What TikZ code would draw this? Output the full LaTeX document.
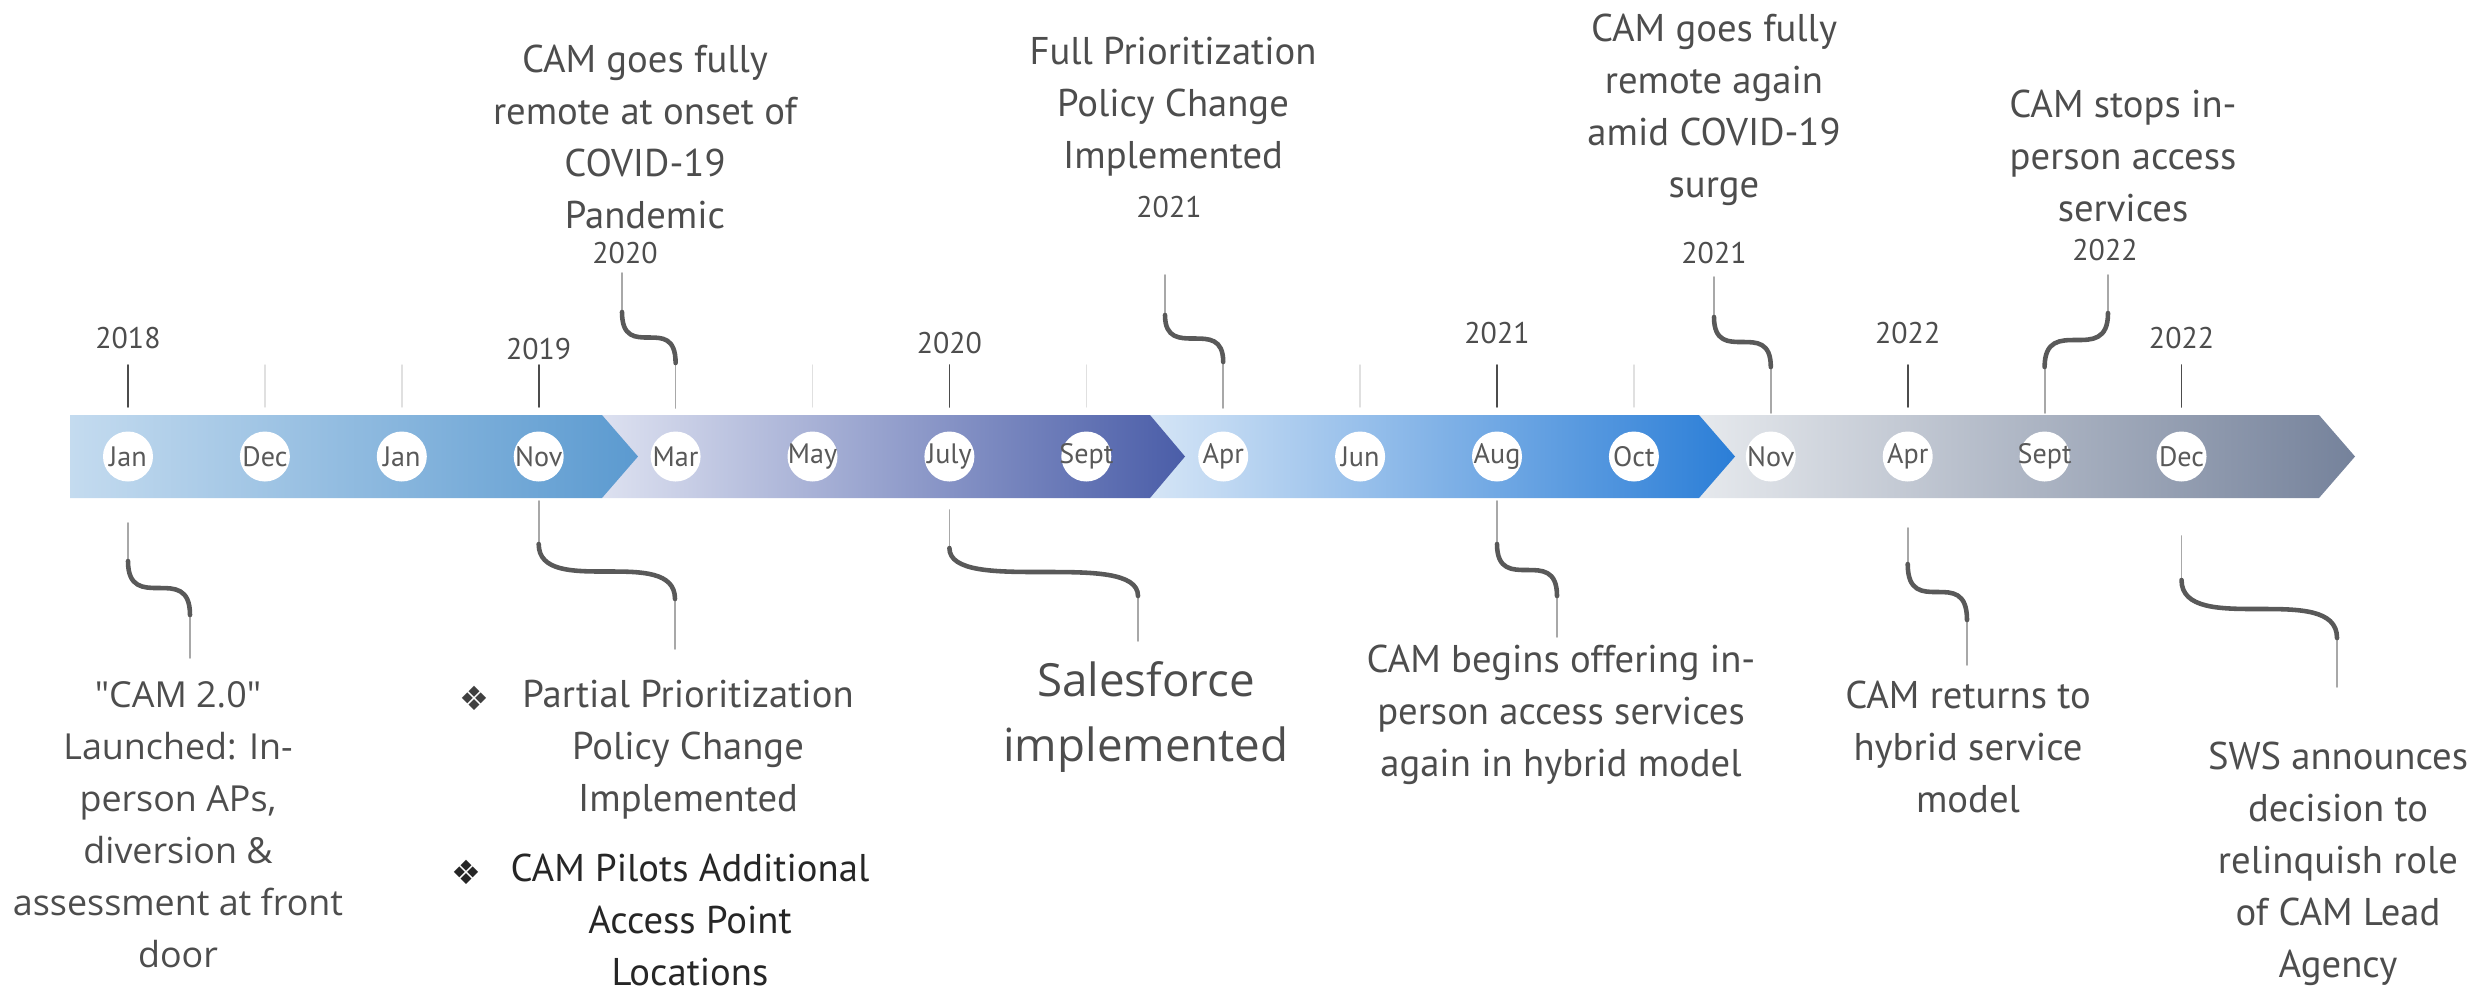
\documentclass[tikz,border=0pt]{standalone}
\usepackage{fontspec}
\setmainfont{PT Sans}
\newfontfamily\roundfont{Open Sans}
\newfontfamily\symbfont{DejaVu Sans}
\usetikzlibrary{calc}
\definecolor{txt}{HTML}{4D4D4D}
\definecolor{mtxt}{HTML}{595959}
\definecolor{stubgray}{HTML}{A8A8A8}
\definecolor{wiggray}{HTML}{595959}
\definecolor{s1l}{HTML}{C4DBEF}\definecolor{s1r}{HTML}{5B9AD0}
\definecolor{s2l}{HTML}{DDE1F0}\definecolor{s2r}{HTML}{4A5DA8}
\definecolor{s3l}{HTML}{D5E5F6}\definecolor{s3r}{HTML}{2B7ED7}
\definecolor{s4l}{HTML}{E6E9ED}\definecolor{s4r}{HTML}{75829B}
\tikzset{
  dot/.style={circle,fill=white,minimum size=0.5cm,inner sep=0pt},
  mon/.style={font=\fontsize{8}{9}\selectfont,text=mtxt,inner sep=0pt},
  yr/.style={font=\fontsize{8.5}{10}\selectfont,text=txt,inner sep=0pt},
  lbl/.style={font=\fontsize{11}{14.8}\selectfont,text=txt,align=center,inner sep=0pt},
  bul/.style={font=\symbfont\fontsize{9.5}{10}\selectfont,inner sep=0pt},
  stub/.style={draw=stubgray,line width=0.5pt},
  wig/.style={draw=wiggray,line width=1.3pt},
  ytick/.style={draw=black!70,line width=0.5pt},
  ltick/.style={draw=black!12,line width=0.4pt}
}
% start node, start offset, first stub, end coordinate, last stub
\newcommand{\curly}[5]{%
  \draw[stub] ($(#1)+(0,#2)$) -- ++(0,#3) coordinate (cA);
  \draw[stub] (#4) -- ++(0,#5) coordinate (cB);
  \draw[wig] (cA) .. controls (cA |- cB) and (cB |- cA) .. (cB);}
\begin{document}
\begin{tikzpicture}[line join=round,line cap=round]
	\useasboundingbox (0,0) rectangle (24.71,-9.92);
	% band, last piece first
	\shade[left color=s4l,right color=s4r] (16.99,-4.15) -- (23.19,-4.15) -- (23.55,-4.565) -- (23.19,-4.98) -- (16.99,-4.98) -- cycle;
	\shade[left color=s3l,right color=s3r] (11.50,-4.15) -- (16.99,-4.15) -- (17.35,-4.565) -- (16.99,-4.98) -- (11.50,-4.98) -- cycle;
	\shade[left color=s2l,right color=s2r] (6.02,-4.15) -- (11.50,-4.15) -- (11.85,-4.565) -- (11.50,-4.98) -- (6.02,-4.98) -- cycle;
	\shade[left color=s1l,right color=s1r] (0.70,-4.15) -- (6.02,-4.15) -- (6.38,-4.565) -- (6.02,-4.98) -- (0.70,-4.98) -- cycle;
	% months
	\foreach \m [count=\i] in {Jan,Dec,Jan,Nov,Mar,May,July,Sept,Apr,Jun,Aug,Oct,Nov,Apr,Sept,Dec}{
		\node[dot] (m\i) at ({1.28+1.369*(\i-1)},-4.565) {};
		\node[mon] (n\i) at (m\i) {\m};
	}
	% ticks and years
	\foreach \i in {2,3,6,8,10,12}
		\draw[ltick] ($(m\i)+(0,0.915)$) -- ($(m\i)+(0,0.495)$);
	\foreach \i/\y/\yy in {1/2018/-3.38,4/2019/-3.49,7/2020/-3.43,11/2021/-3.33,14/2022/-3.33,16/2022/-3.38}{
		\draw[ytick] ($(m\i)+(0,0.915)$) -- ($(m\i)+(0,0.495)$);
		\node[yr] (y\i) at (m\i |- 0,\yy) {\y};
	}
	% top events
	\coordinate (e5) at (6.22,-2.73);
	\coordinate (e9) at (11.65,-2.75);
	\coordinate (e13) at (17.14,-2.77);
	\coordinate (e15) at (21.08,-2.75);
	\curly{m5}{0.485}{0.45}{e5}{-0.39}
	\curly{m9}{0.485}{0.46}{e9}{-0.40}
	\curly{m13}{0.435}{0.46}{e13}{-0.40}
	\curly{m15}{0.435}{0.46}{e15}{-0.38}
	\node[yr] (y5) at (6.25,-2.53) {2020};
	\node[yr] (y9) at (11.69,-2.07) {2021};
	\node[yr] (y13) at (17.14,-2.53) {2021};
	\node[yr] (y15) at (21.05,-2.50) {2022};
	\node[lbl] (remote) at (6.45,-1.37) {CAM goes fully\\remote at onset of\\COVID-19\\Pandemic};
	\node[lbl] (fullprio) at (11.73,-1.07) {Full Prioritization\\Policy Change\\Implemented};
	\node[lbl] (surge) at (17.14,-1.10) {CAM goes fully\\remote again\\amid COVID-19\\surge};
	\node[lbl] (stops) at (21.23,-1.56) {CAM stops in-\\person access\\services};
	% bottom events
	\coordinate (e1) at (1.90,-6.58);
	\coordinate (e4) at (6.75,-6.49);
	\coordinate (e7) at (11.38,-6.41);
	\coordinate (e11) at (15.57,-6.37);
	\coordinate (e14) at (19.67,-6.65);
	\coordinate (e16) at (23.37,-6.87);
	\curly{m1}{-0.665}{-0.38}{e1}{0.43}
	\curly{m4}{-0.445}{-0.43}{e4}{0.50}
	\curly{m7}{-0.535}{-0.38}{e7}{0.45}
	\curly{m11}{-0.445}{-0.43}{e11}{0.41}
	\curly{m14}{-0.715}{-0.36}{e14}{0.45}
	\curly{m16}{-0.795}{-0.44}{e16}{0.49}
	\node[lbl,font=\roundfont\fontsize{10.2}{14.8}\selectfont] (launch) at (1.78,-8.25) {"CAM 2.0"\\Launched: In-\\person APs,\\diversion \&\\assessment at front\\door};
	\node[lbl] (partial) at (6.88,-7.50) {Partial Prioritization\\Policy Change\\Implemented};
	\node[lbl,text=black!85] (pilots) at (6.90,-9.20) {CAM Pilots Additional\\Access Point\\Locations};
	\node[bul,text=black!75] (bul1) at (4.74,-6.98) {❖};
	\node[bul,text=black!85] (bul2) at (4.66,-8.72) {❖};
	\node[lbl,font=\roundfont\fontsize{13}{18.5}\selectfont] (sales) at (11.46,-7.17) {Salesforce\\implemented};
	\node[lbl] (hybrid) at (15.61,-7.15) {CAM begins offering in-\\person access services\\again in hybrid model};
	\node[lbl] (returns) at (19.68,-7.47) {CAM returns to\\hybrid service\\model};
	\node[lbl] (sws) at (23.38,-8.64) {SWS announces\\decision to\\relinquish role\\of CAM Lead\\Agency};
\end{tikzpicture}
\end{document}
